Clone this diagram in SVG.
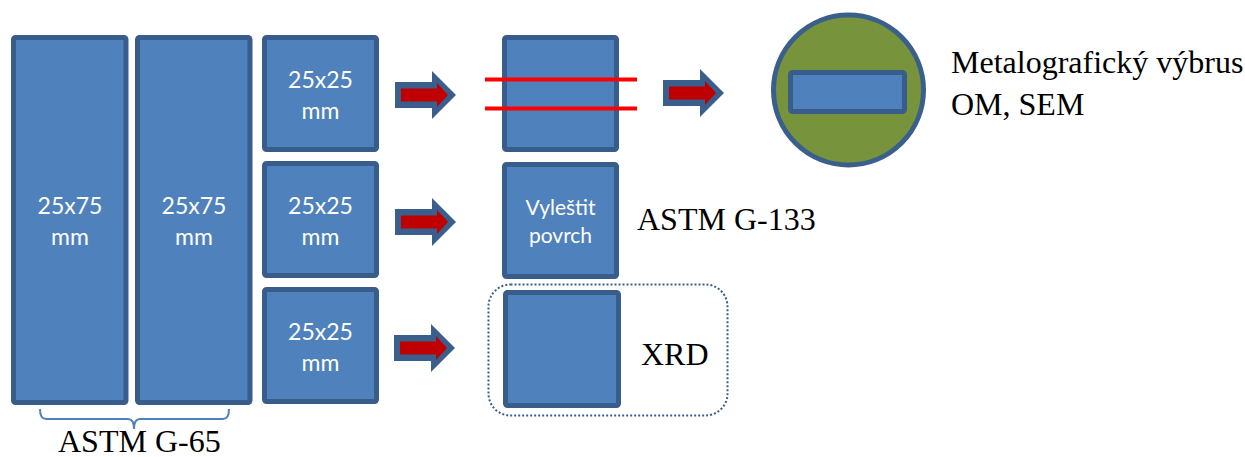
<svg xmlns="http://www.w3.org/2000/svg" width="1245" height="457" viewBox="0 0 1245 457">
<style>
.box{fill:#4F81BD;stroke:#385D8A;stroke-width:5}
.wt{fill:#FFFFFF;font-family:Lato,"Open Sans",sans-serif;font-size:23px;text-anchor:middle}
.wt2{fill:#FFFFFF;font-family:Lato,"Open Sans",sans-serif;font-size:21px;text-anchor:middle}
.bt{fill:#000000;font-family:"Liberation Serif",serif;font-size:32px}
.cut{stroke:#FF0000;stroke-width:4}
</style>
<defs>
<g id="arrow">
<polygon points="0,-13 37,-13 37,-24 61,0 37,24 37,13 0,13" fill="#3B5F8C"/>
<polygon points="6,-6.5 42,-6.5 42,-12 53,0 42,12 42,6.5 6,6.5" fill="#C00000"/>
</g>
</defs>
<g id="big1"><rect class="box" x="13.5" y="37.5" width="112.5" height="365" rx="2"/><text class="wt" x="70" y="214">25x75</text><text class="wt" x="70" y="245">mm</text></g>
<g id="big2"><rect class="box" x="137.5" y="37.5" width="112.5" height="365" rx="2"/><text class="wt" x="194" y="214">25x75</text><text class="wt" x="194" y="245">mm</text></g>
<g id="s1"><rect class="box" x="264.5" y="37.5" width="112" height="112" rx="2"/><text class="wt" x="320.5" y="88">25x25</text><text class="wt" x="320.5" y="119">mm</text></g>
<g id="s2"><rect class="box" x="264.5" y="163.5" width="112" height="112" rx="2"/><text class="wt" x="320.5" y="214">25x25</text><text class="wt" x="320.5" y="245">mm</text></g>
<g id="s3"><rect class="box" x="264.5" y="289.5" width="112" height="112" rx="2"/><text class="wt" x="320.5" y="340">25x25</text><text class="wt" x="320.5" y="371">mm</text></g>
<g id="cut"><rect class="box" x="504.5" y="37.5" width="112" height="112" rx="2"/><line class="cut" x1="485" y1="79.5" x2="637" y2="79.5"/><line class="cut" x1="485" y1="108.5" x2="637" y2="108.5"/></g>
<g id="polish"><rect class="box" x="504.5" y="164.5" width="112" height="112" rx="2"/><text class="wt2" x="560.5" y="215">Vyleštit</text><text class="wt2" x="560.5" y="243">povrch</text></g>
<g id="xrd"><rect x="488.5" y="284.5" width="239" height="131" rx="22" fill="none" stroke="#3B5F8C" stroke-width="2" stroke-dasharray="2 2"/><rect class="box" x="505.5" y="292.5" width="113" height="113" rx="2"/><text class="bt" x="641" y="365">XRD</text></g>
<g id="sample"><circle cx="848.5" cy="90" r="75" fill="#77933C" stroke="#3B5F8C" stroke-width="5"/><rect class="box" x="790.5" y="72.5" width="114" height="39" rx="2"/></g>
<g id="labels">
<text class="bt" x="951" y="73">Metalografický výbrus</text>
<text class="bt" x="951" y="115">OM, SEM</text>
<text class="bt" x="637" y="230">ASTM G-133</text>
<text class="bt" x="58" y="452">ASTM G-65</text>
</g>
<g id="connectors">
<use href="#arrow" x="395" y="95"/>
<use href="#arrow" x="395" y="222"/>
<use href="#arrow" x="394" y="348"/>
<use href="#arrow" x="663" y="93"/>
<path d="M40,409 Q40,419 46,419 L128,419 Q134,419 134,429 Q134,419 140,419 L223,419 Q229,419 229,409" fill="none" stroke="#4F81BD" stroke-width="2"/>
</g>
</svg>
